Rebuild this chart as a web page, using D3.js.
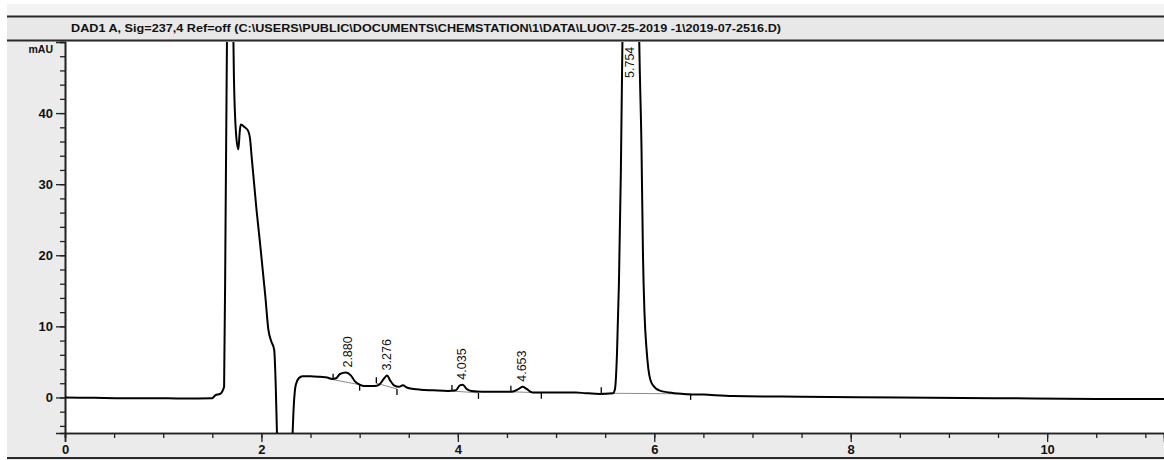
<!DOCTYPE html>
<html>
<head>
<meta charset="utf-8">
<script src="https://cdn.jsdelivr.net/npm/d3@7"></script>
<style>
  body { margin: 0; background: #fff; }
  svg { display: block; font-family: "Liberation Sans", Arial, sans-serif; }
</style>
</head>
<body>
<div class="visHolder"></div>
<script>
// signal header
const title = 'DAD1 A, Sig=237,4 Ref=off (C:\\USERS\\PUBLIC\\DOCUMENTS\\CHEMSTATION\\1\\DATA\\LUO\\7-25-2019 -1\\2019-07-2516.D)';

// trace (min, mAU)
const time = [0.00, 0.30, 0.60, 0.90, 1.20, 1.50, 1.53, 1.58, 1.62, 1.635, 1.65, 1.68, 1.71, 1.72, 1.745, 1.765,
  1.78, 1.79, 1.83, 1.865, 1.885, 1.90, 1.95, 1.985, 2.04, 2.07, 2.10, 2.13, 2.145, 2.16, 2.19, 2.24, 2.29,
  2.31, 2.33, 2.35, 2.38, 2.42, 2.50, 2.60, 2.67, 2.72, 2.76, 2.80, 2.86, 2.91, 2.95, 3.00, 3.05, 3.15,
  3.20, 3.25, 3.28, 3.31, 3.35, 3.40, 3.44, 3.48, 3.55, 3.62, 3.75, 3.90, 3.98, 4.02, 4.05, 4.09, 4.14,
  4.25, 4.40, 4.55, 4.62, 4.66, 4.70, 4.76, 4.90, 5.05, 5.20, 5.30, 5.45, 5.58, 5.60, 5.62, 5.64, 5.66,
  5.68, 5.72, 5.755, 5.80, 5.845, 5.87, 5.885, 5.90, 5.92, 5.94, 5.96, 6.00, 6.05, 6.15, 6.30, 6.50,
  6.80, 7.50, 8.50, 9.50, 10.50, 11.19];
const signal = [0.0, -0.05, -0.1, -0.1, -0.15, -0.1, 0.3, 0.5, 1.5, 25, 52, 120, 55, 45, 36.5, 34.9,
  37.5, 38.4, 38.0, 37.5, 36.3, 33.9, 26.4, 21.8, 14.2, 9.6, 7.9, 6.7, 2, -6, -16, -20, -17,
  -8, -1, 1.8, 2.7, 3.0, 3.0, 2.9, 2.8, 2.6, 2.7, 3.3, 3.5, 3.1, 2.3, 1.8, 1.6, 1.6,
  1.8, 2.7, 3.1, 2.4, 1.7, 1.5, 1.7, 1.4, 1.2, 1.1, 1.0, 0.9, 1.0, 1.7, 1.8, 1.2, 0.9,
  0.8, 0.8, 0.8, 1.2, 1.5, 1.2, 0.7, 0.7, 0.7, 0.7, 0.6, 0.5, 0.6, 1.2, 6, 16, 32,
  55, 130, 160, 130, 52, 35, 20, 12, 7, 4, 2.5, 1.5, 1.0, 0.7, 0.5, 0.4,
  0.2, 0.1, 0.0, -0.1, -0.2, -0.2];

// integrated peaks
const peakRT = [2.880, 3.276, 4.035, 4.653, 5.754];
const peakApex = [3.5, 3.1, 1.8, 1.5, 160];
const baseStartT = [2.73, 3.17, 3.94, 4.54, 5.46];
const baseStartV = [2.5, 2.0, 0.9, 0.8, 0.6];
const baseEndT = [3.00, 3.38, 4.21, 4.85, 6.37];
const baseEndV = [1.8, 1.2, 0.65, 0.65, 0.5];

// axis ticks
const xMajor = [0, 2, 4, 6, 8, 10];
const yMajor = [0, 10, 20, 30, 40];

const width = 1164;
const height = 460;
const mLeft = 65, mRight = 1164, mTop = 42, mBottom = 433;

const svg = d3.select('.visHolder')
  .append('svg')
  .attr('width', width)
  .attr('height', height);

// frame / backgrounds
svg.append('rect').attr('x', 7).attr('y', 4).attr('width', width - 7).attr('height', height - 4).attr('fill', '#ebebeb');
svg.append('rect').attr('x', 7).attr('y', 4).attr('width', width - 7).attr('height', 12).attr('fill', '#f3f3f3');
svg.append('rect').attr('x', 7).attr('y', 17).attr('width', width - 7).attr('height', 23).attr('fill', '#e8e8e8');
[16.5, 40.5, 458].forEach(yy => {
  svg.append('line')
    .attr('x1', 7).attr('x2', width)
    .attr('y1', yy).attr('y2', yy)
    .attr('stroke', '#2a2a2a')
    .attr('stroke-width', 2);
});
svg.append('rect')
  .attr('x', mLeft).attr('y', mTop)
  .attr('width', mRight - mLeft).attr('height', mBottom - mTop)
  .attr('fill', '#fff');

svg.append('text')
  .attr('x', 71).attr('y', 32)
  .attr('font-size', 11.5).attr('font-weight', 'bold')
  .attr('fill', '#111')
  .attr('textLength', 710).attr('lengthAdjust', 'spacingAndGlyphs')
  .text(title);

const xScale = d3.scaleLinear().domain([0, 11.19]).range([mLeft, mRight]);
const yScale = d3.scaleLinear().domain([-5, 50]).range([mBottom, mTop]);

// x axis: minor every 0.5, labels every 2
const xMinor = d3.axisBottom(xScale).tickValues(d3.range(0, 11.01, 0.5)).tickSize(5).tickFormat('');
const xMaj = d3.axisBottom(xScale).tickValues(xMajor).tickSize(9).tickPadding(3).tickFormat(d3.format('d'));
svg.append('g').attr('transform', 'translate(0,' + mBottom + ')').call(xMinor);
svg.append('g').attr('transform', 'translate(0,' + mBottom + ')').call(xMaj);

// y axis: minor every 2, labels every 10
const yMinor = d3.axisLeft(yScale).tickValues(d3.range(-4, 50.01, 2)).tickSize(5).tickFormat('');
const yMaj = d3.axisLeft(yScale).tickValues(yMajor).tickSize(9).tickPadding(3).tickFormat(d3.format('d'));
svg.append('g').attr('transform', 'translate(' + mLeft + ',0)').call(yMinor);
svg.append('g').attr('transform', 'translate(' + mLeft + ',0)').call(yMaj);

svg.selectAll('.domain').attr('stroke', '#222').attr('stroke-width', 1.6);
svg.selectAll('.tick line').attr('stroke', '#222').attr('stroke-width', 1.3);
svg.selectAll('.tick text')
  .attr('font-size', 13).attr('font-weight', 'bold')
  .attr('fill', '#111')
  .attr('font-family', '"Liberation Sans", Arial, sans-serif');

svg.append('text')
  .attr('x', 53).attr('y', 53)
  .attr('text-anchor', 'end')
  .attr('font-size', 10.5).attr('font-weight', 'bold')
  .attr('fill', '#111')
  .text('mAU');

svg.append('clipPath').attr('id', 'plotClip')
  .append('rect')
  .attr('x', mLeft).attr('y', mTop)
  .attr('width', mRight - mLeft).attr('height', mBottom - mTop);

const plot = svg.append('g').attr('clip-path', 'url(#plotClip)');

// integration baselines
plot.selectAll('.base')
  .data(peakRT)
  .enter()
  .append('line')
  .attr('class', 'base')
  .attr('x1', (d, i) => xScale(baseStartT[i]))
  .attr('y1', (d, i) => yScale(baseStartV[i]))
  .attr('x2', (d, i) => xScale(baseEndT[i]))
  .attr('y2', (d, i) => yScale(baseEndV[i]))
  .attr('stroke', '#8c8c8c')
  .attr('stroke-width', 1);

const traceData = time.map((t, i) => [t, signal[i]]);
const line = d3.line()
  .x(d => xScale(d[0]))
  .y(d => yScale(d[1]))
  .curve(d3.curveMonotoneX);

plot.append('path')
  .datum(traceData)
  .attr('d', line)
  .attr('fill', 'none')
  .attr('stroke', '#000')
  .attr('stroke-width', 2)
  .attr('stroke-linejoin', 'round');

// start (up) and end (down) markers
plot.selectAll('.startTick')
  .data(peakRT)
  .enter()
  .append('line')
  .attr('x1', (d, i) => xScale(baseStartT[i]))
  .attr('x2', (d, i) => xScale(baseStartT[i]))
  .attr('y1', (d, i) => yScale(baseStartV[i]))
  .attr('y2', (d, i) => yScale(baseStartV[i]) - 6)
  .attr('stroke', '#000').attr('stroke-width', 1.3);
plot.selectAll('.endTick')
  .data(peakRT)
  .enter()
  .append('line')
  .attr('x1', (d, i) => xScale(baseEndT[i]))
  .attr('x2', (d, i) => xScale(baseEndT[i]))
  .attr('y1', (d, i) => yScale(baseEndV[i]))
  .attr('y2', (d, i) => yScale(baseEndV[i]) + 6)
  .attr('stroke', '#000').attr('stroke-width', 1.3);

// retention time labels, rotated
svg.selectAll('.rt')
  .data(peakRT)
  .enter()
  .append('text')
  .attr('class', 'rt')
  .attr('transform', (d, i) => {
    const px = xScale(d);
    let py = yScale(peakApex[i]) - 5;
    if (py - 32 < mTop) py = mTop + 36;
    return 'translate(' + px + ',' + py + ') rotate(-90)';
  })
  .attr('dy', '0.35em')
  .attr('font-size', 12.5)
  .attr('fill', '#111')
  .text(d => d3.format('.3f')(d));
</script>
</body>
</html>
